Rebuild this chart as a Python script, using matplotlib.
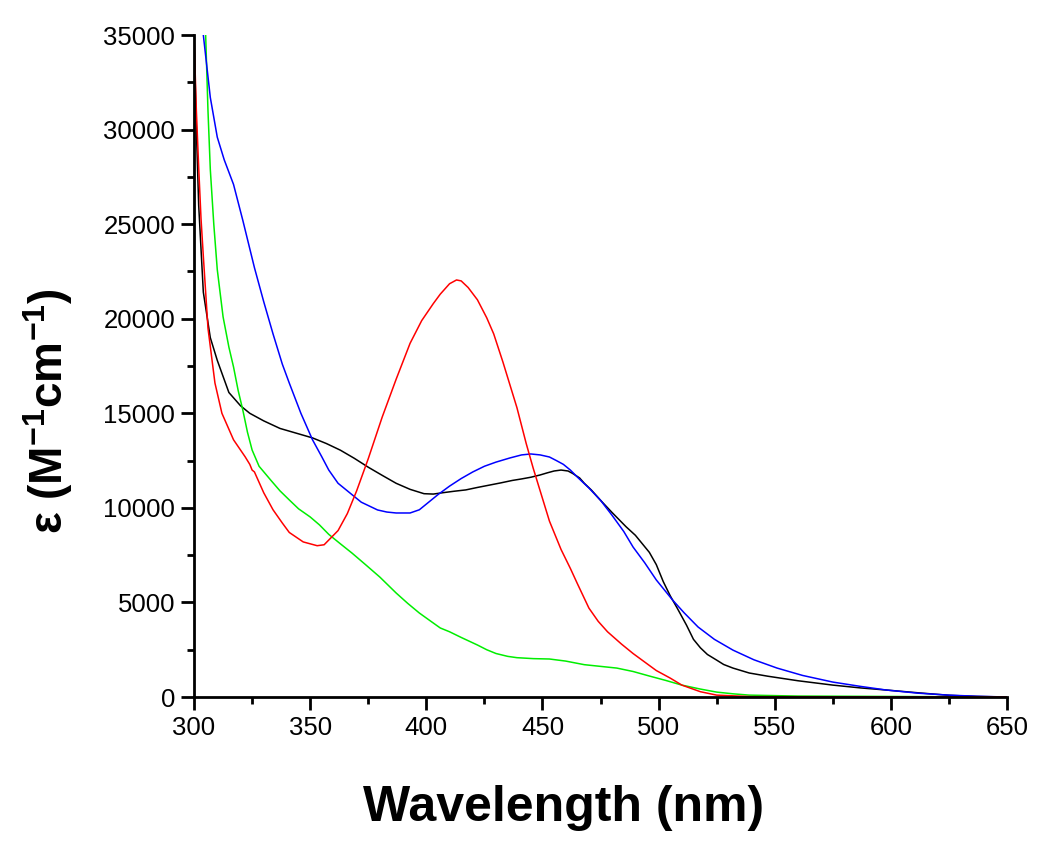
import matplotlib
matplotlib.use('Agg')
import matplotlib.pyplot as plt
from matplotlib.ticker import MultipleLocator

plt.rcParams['font.family'] = ['Liberation Sans', 'DejaVu Sans']
plt.rcParams['mathtext.fontset'] = 'custom'
plt.rcParams['mathtext.rm'] = 'Liberation Sans'
plt.rcParams['mathtext.bf'] = 'Liberation Sans:bold'

# red
red_x = [300, 301, 302, 303, 304, 306, 309, 312, 317, 322, 324, 325, 326, 330, 334, 338, 341, 347, 353,
         356, 358, 362, 366, 370, 375, 381, 387, 393, 398, 403, 406, 410, 413, 415, 418, 422, 426, 429, 433,
         436, 439, 443, 446, 449, 453, 458, 462, 465, 470, 474, 478, 484, 489, 494, 499, 505, 510, 518, 525, 540, 650]
red_y = [35000, 31000, 28000, 25300, 23300, 19500, 16600, 15000, 13600, 12700, 12300, 12000, 11900, 10800, 9900, 9200, 8700, 8200, 8000,
         8050, 8300, 8800, 9700, 10900, 12600, 14800, 16800, 18700, 19900, 20800, 21300, 21850, 22050, 22000, 21650, 21000, 20050, 19200, 17700,
         16500, 15300, 13400, 12100, 10900, 9300, 7800, 6800, 6000, 4700, 4000, 3450, 2800, 2300, 1850, 1400, 1000, 630, 280, 100, 20, 0]

# black
black_x = [300, 301, 302, 304, 307, 310, 315, 320, 324, 330, 337, 344, 351, 357, 363, 369, 375, 381, 387, 393, 399, 403, 407, 412, 417,
           422, 427, 432, 437, 441, 445, 449, 452, 455, 458, 461, 463, 466, 468, 471, 475, 480, 486, 490, 493, 496, 499, 502, 505,
           508, 512, 515, 518, 521, 525, 528, 532, 539, 547, 560, 575, 587, 598, 612, 625, 637, 650]
black_y = [35000, 30000, 26000, 21400, 19000, 17800, 16100, 15400, 15000, 14600, 14200, 13950, 13700, 13400, 13050, 12620, 12150, 11720, 11300, 10980, 10750, 10730, 10800, 10880, 10950,
           11080, 11200, 11320, 11450, 11530, 11620, 11740, 11850, 11950, 12000, 11950, 11820, 11580, 11300, 10950, 10400, 9750, 9000, 8550, 8100, 7650, 7000, 6100, 5350,
           4700, 3800, 3050, 2600, 2250, 1950, 1720, 1530, 1270, 1100, 860, 630, 480, 370, 220, 90, 30, 0]

# blue
blue_x = [304, 307, 310, 313, 317, 321, 326, 330, 334, 338, 341, 346, 351, 355, 358, 362, 367, 372, 379, 383, 387, 393, 397, 400, 405,
          410, 415, 420, 425, 430, 436, 441, 445, 449, 453, 456, 459, 462, 465, 470, 475, 480, 485, 489, 494, 499, 506, 511, 517,
          524, 532, 541, 551, 562, 575, 587, 598, 612, 625, 637, 650]
blue_y = [35000, 31700, 29600, 28400, 27100, 25200, 22700, 20900, 19200, 17600, 16600, 15000, 13600, 12700, 12000, 11300, 10800, 10300, 9890, 9780, 9730, 9730, 9900, 10200, 10700,
          11150, 11550, 11900, 12200, 12420, 12640, 12800, 12850, 12800, 12690, 12500, 12300, 12000, 11630, 11050, 10400, 9600, 8750, 7930, 7100, 6190, 5130, 4450, 3700,
          3050, 2480, 1970, 1530, 1140, 790, 560, 370, 200, 100, 40, 0]

# green
green_x = [305, 306, 307, 308.5, 310, 312.5, 315, 317, 319, 321, 323, 325, 328, 333, 337, 341, 345, 350, 354, 358, 363, 368, 374, 380, 387, 392, 397, 402, 406,
           410, 415, 422, 426, 430, 435, 439, 446, 453, 460, 468, 475, 482, 489, 496, 503, 510, 518, 525, 532, 539, 560, 600, 650]
green_y = [35000, 31000, 27900, 25000, 22600, 20100, 18500, 17450, 16200, 15170, 14000, 13060, 12200, 11470, 10900, 10420, 9950, 9520, 9100, 8600, 8100, 7610, 6980, 6340, 5500, 4950, 4440, 4000, 3650,
           3450, 3150, 2750, 2500, 2300, 2150, 2080, 2030, 2010, 1900, 1710, 1620, 1530, 1350, 1110, 880, 630, 420, 260, 170, 100, 50, 30, 0]

fig = plt.figure(figsize=(10.5, 8.52), dpi=100)
ax = fig.add_axes([0.1848, 0.1819, 0.7743, 0.7770])

ax.plot(black_x, black_y, color='black', lw=1.1)
ax.plot(green_x, green_y, color='#00ee00', lw=1.1)
ax.plot(blue_x, blue_y, color='#0000ff', lw=1.1)
ax.plot(red_x, red_y, color='#ff0000', lw=1.1)

ax.set_xlim(300, 650)
ax.set_ylim(0, 35000)
ax.xaxis.set_major_locator(MultipleLocator(50))
ax.xaxis.set_minor_locator(MultipleLocator(25))
ax.yaxis.set_major_locator(MultipleLocator(5000))
ax.yaxis.set_minor_locator(MultipleLocator(2500))

for s in ['top', 'right']:
    ax.spines[s].set_visible(False)
for s in ['left', 'bottom']:
    ax.spines[s].set_linewidth(2.0)

ax.tick_params(which='major', direction='out', length=9.5, width=2.0, labelsize=18.5, pad=4)
ax.tick_params(which='minor', direction='out', length=5, width=2.0)

ax.set_xlabel('Wavelength (nm)', fontsize=36, fontweight='bold')
ax.set_ylabel(r'ε (M$^{\mathbf{-1}}$cm$^{\mathbf{-1}}$)', fontsize=33, fontweight='bold')
ax.xaxis.set_label_coords(0.455, -0.133)
ax.yaxis.set_label_coords(-0.146, 0.432)

fig.savefig('out.png', dpi=100)
